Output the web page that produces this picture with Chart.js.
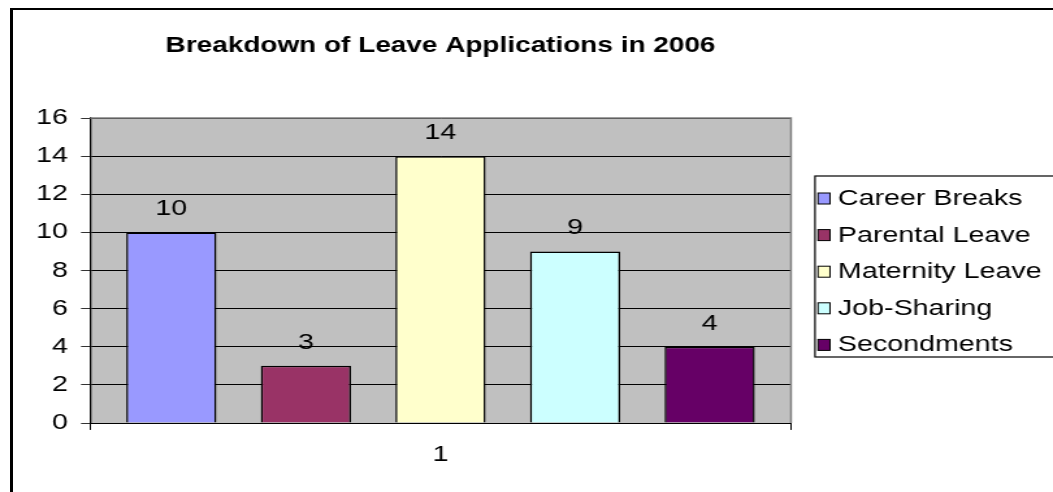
<!DOCTYPE html>
<html>
<head>
<meta charset="utf-8">
<script src="https://cdn.jsdelivr.net/npm/chart.js@4.4.1/dist/chart.umd.min.js"></script>
<style>
  body { margin: 0; background: #fff; overflow: hidden; }
  #frame { position: absolute; left: 10px; top: 8px; width: 1200px; height: 600px;
           border-left: 3px solid #000; border-top: 2px solid #000; }
  #myChart { position: absolute; left: 0; top: 0; width: 1053px; height: 492px; }
</style>
</head>
<body>
<div id="frame"></div>
<canvas id="myChart" width="810" height="492" style="width:1053px;height:492px"></canvas>
<script>
// chart data
const categories = ["1"];
const seriesNames = ["Career Breaks", "Parental Leave", "Maternity Leave", "Job-Sharing", "Secondments"];
const seriesValues = [10, 3, 14, 9, 4];
const seriesColors = ["#9999FF", "#993366", "#FFFFCC", "#CCFFFF", "#660066"];
const yTicks = [0, 2, 4, 6, 8, 10, 12, 14, 16];

// canvas is drawn narrow and stretched by css, like the excel picture
const SX = 810 / 1053;
const FONT = "Arial, 'Liberation Sans', sans-serif";

let datasets = [];
for (let i = 0; i < seriesNames.length; i++) {
    datasets.push({
        label: seriesNames[i],
        data: [seriesValues[i]],
        backgroundColor: seriesColors[i],
        borderColor: "#000",
        borderWidth: 1.5,
        categoryPercentage: 0.96,
        barPercentage: 0.67
    });
}

const plotBg = {
    id: "plotBg",
    beforeDraw(chart) {
        const a = chart.chartArea, ctx = chart.ctx;
        ctx.save();
        ctx.fillStyle = "#C0C0C0";
        ctx.fillRect(a.left, a.top, a.right - a.left, a.bottom - a.top);
        ctx.restore();
    },
    beforeDatasetsDraw(chart) {
        const a = chart.chartArea, ctx = chart.ctx;
        ctx.save();
        ctx.strokeStyle = "#808080";
        ctx.lineWidth = 1.5;
        ctx.beginPath();
        ctx.moveTo(a.left, a.top);
        ctx.lineTo(a.right, a.top);
        ctx.lineTo(a.right, a.bottom);
        ctx.stroke();
        ctx.restore();
    }
};

// numbers above the bars
const barLabels = {
    id: "barLabels",
    afterDatasetsDraw(chart) {
        const ctx = chart.ctx;
        ctx.save();
        ctx.font = "22px " + FONT;
        ctx.fillStyle = "#000";
        ctx.textAlign = "center";
        ctx.textBaseline = "alphabetic";
        chart.data.datasets.forEach((ds, i) => {
            chart.getDatasetMeta(i).data.forEach((bar, j) => {
                ctx.fillText(ds.data[j], bar.x, bar.y - 17);
            });
        });
        ctx.restore();
    }
};

// boxed legend on the right
const boxLegend = {
    id: "boxLegend",
    afterDraw(chart) {
        const ctx = chart.ctx;
        const left = 815 * SX, top = 176, bottom = 357;
        ctx.save();
        ctx.strokeStyle = "#000";
        ctx.lineWidth = 1.2;
        ctx.strokeRect(left, top, 1000, bottom - top);
        ctx.font = "22px " + FONT;
        ctx.textBaseline = "alphabetic";
        ctx.textAlign = "left";
        chart.data.datasets.forEach((ds, i) => {
            const base = 205 + i * 36.6;
            ctx.fillStyle = ds.backgroundColor;
            ctx.fillRect(818 * SX, base - 12, 12 * SX, 11);
            ctx.lineWidth = 1;
            ctx.strokeRect(818 * SX, base - 12, 12 * SX, 11);
            ctx.fillStyle = "#000";
            ctx.fillText(ds.label, 838 * SX, base);
        });
        ctx.restore();
    }
};

new Chart("myChart", {
    type: "bar",
    data: { labels: categories, datasets: datasets },
    options: {
        responsive: false,
        animation: false,
        devicePixelRatio: 1,
        layout: { padding: { left: 0, right: 810 - 791 * SX, top: 0, bottom: 0 } },
        plugins: {
            legend: { display: false },
            tooltip: { enabled: false },
            title: {
                display: true,
                fullSize: false,
                text: "Breakdown of Leave Applications in 2006",
                color: "#000",
                font: { family: FONT, size: 21.5, weight: "bold" },
                padding: { top: 33.1, bottom: 59.1 }
            }
        },
        scales: {
            x: {
                offset: true,
                grid: { display: true, drawOnChartArea: false, offset: true, color: "#000", tickLength: 9 * SX },
                border: { color: "#000", width: 1 },
                ticks: { color: "#000", font: { family: FONT, size: 22 }, padding: 12 },
                afterFit(scale) { scale.height = 492 - 423; }
            },
            y: {
                min: 0,
                max: 16,
                afterBuildTicks(scale) { scale.ticks = yTicks.map(v => ({ value: v })); },
                grid: { color: "#000", tickColor: "#333", tickLength: 9 * SX, lineWidth: 1 },
                border: { color: "#000", width: 1.3 },
                ticks: { color: "#000", font: { family: FONT, size: 22 }, padding: 13 * SX },
                afterFit(scale) { scale.width = 90 * SX; }
            }
        }
    },
    plugins: [plotBg, barLabels, boxLegend]
});
</script>
</body>
</html>
